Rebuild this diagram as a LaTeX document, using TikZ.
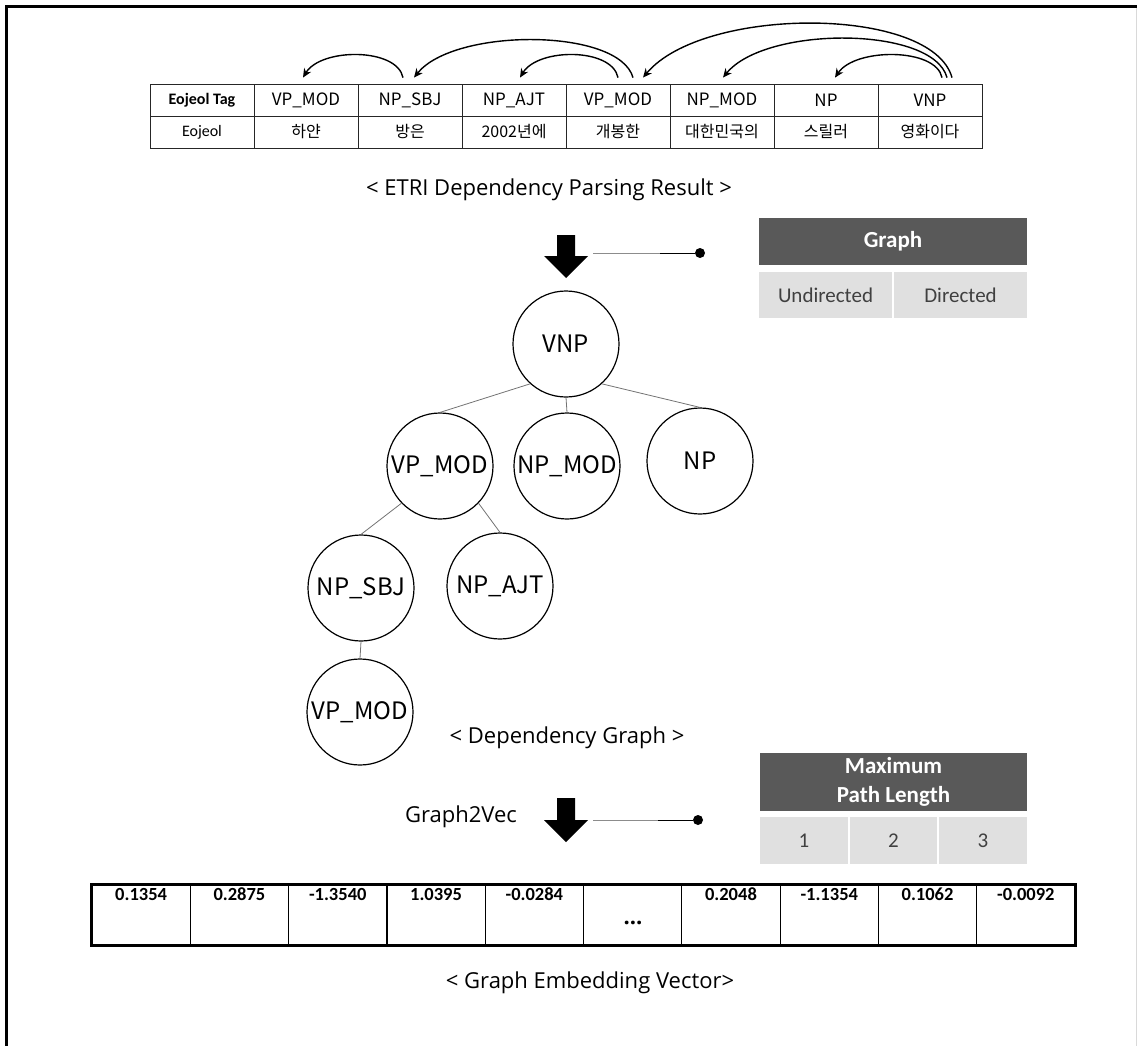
\documentclass[tikz,border=0pt]{standalone}
\usepackage{fontspec}
\setmainfont{Open Sans}
\newfontfamily\calfont{Carlito}
\newfontfamily\krfont{Noto Sans CJK KR}
\usetikzlibrary{arrows.meta,calc}
\definecolor{hdr}{HTML}{595959}
\definecolor{cellg}{HTML}{E0E0E0}
\definecolor{celltxt}{HTML}{404040}
\begin{document}
\begin{tikzpicture}[x=1pt,y=-1pt,
  tagcell/.style={draw=black!85, line width=0.8pt, minimum width=104pt, minimum height=32pt, inner sep=0pt, font=\krfont\fontsize{17}{20}\selectfont},
  wordcell/.style={tagcell, font=\krfont\fontsize{16}{20}\selectfont},
  arc/.style={line width=1.4pt, -{Stealth[length=9pt,width=8pt]}},
  caption/.style={font=\fontsize{22}{26}\selectfont, inner sep=0pt},
  tnode/.style={circle, draw, line width=1.2pt, minimum size=106pt, inner sep=0pt, font=\krfont\fontsize{24}{28}\selectfont},
  tedge/.style={draw=black!55, line width=0.8pt},
  hdrcell/.style={fill=hdr, text=white, inner sep=0pt, font=\calfont\bfseries\fontsize{23}{26}\selectfont, align=center},
  optcell/.style={fill=cellg, text=celltxt, inner sep=0pt, font=\calfont\fontsize{21}{24}\selectfont},
  vcell/.style={draw, line width=1.2pt, minimum width=98.3pt, minimum height=60pt, inner sep=0pt},
  vnum/.style={font=\calfont\bfseries\fontsize{18.5}{20}\selectfont, inner sep=0pt, anchor=base},
  dot/.style={circle, fill, inner sep=0pt, minimum size=10pt},
  blockarrow/.style={fill=black}
]
\useasboundingbox (0,0) rectangle (1137,1046);
% frame
\draw[line width=3pt] (6,1046) -- (6,7) -- (1137,7);
\draw[black!15, line width=1pt] (1136,8) -- (1136,1046);

% top table
\node[tagcell, font=\calfont\bfseries\fontsize{16}{20}\selectfont] (t1) at (202,100) {Eojeol Tag};
\node[tagcell] (t2) at (306,100) {VP\_MOD};
\node[tagcell] (t3) at (410,100) {NP\_SBJ};
\node[tagcell] (t4) at (514,100) {NP\_AJT};
\node[tagcell] (t5) at (618,100) {VP\_MOD};
\node[tagcell] (t6) at (722,100) {NP\_MOD};
\node[tagcell] (t7) at (826,100) {NP};
\node[tagcell] (t8) at (930,100) {VNP};
\node[wordcell, font=\calfont\fontsize{16}{20}\selectfont] (w1) at (202,132) {Eojeol};
\node[wordcell] (w2) at (306,132) {하얀};
\node[wordcell] (w3) at (410,132) {방은};
\node[wordcell] (w4) at (514,132) {2002년에};
\node[wordcell] (w5) at (618,132) {개봉한};
\node[wordcell] (w6) at (722,132) {대한민국의};
\node[wordcell] (w7) at (826,132) {스릴러};
\node[wordcell] (w8) at (930,132) {영화이다};

% dependency arcs
\draw[arc] ($(t3.north)+(-7,-6)$) .. controls +(-6,-30) and +(18,-30) .. ($(t2.north)+(-3,-6)$);
\draw[arc] ($(t5.north)+(0,-6)$) .. controls +(-6,-30) and +(18,-30) .. ($(t4.north)+(6,-6)$);
\draw[arc] ($(t5.north)+(15,-6)$) .. controls +(-14,-50) and +(40,-50) .. ($(t3.north)+(4,-6)$);
\draw[arc] ($(t8.north)+(22,-6)$) .. controls +(-20,-72) and +(60,-72) .. ($(t5.north)+(25,-6)$);
\draw[arc] ($(t8.north)+(17,-6)$) .. controls +(-14,-52) and +(42,-52) .. ($(t6.north)+(1,-6)$);
\draw[arc] ($(t8.north)+(12,-6)$) .. controls +(-6,-30) and +(20,-30) .. ($(t7.north)+(9,-6)$);

\node[caption] (cap1) at (549,190) {< ETRI Dependency Parsing Result >};

% first block arrow and option line
\fill[blockarrow] (557,235) -- (575,235) -- (575,256) -- (588,256) -- (566,278) -- (544,256) -- (557,256) -- cycle;
\coordinate (a1r) at (593,253);
\coordinate (a1m) at (660,253);
\node[dot] (d1) at (700,253) {};
\draw[black!45, line width=1pt] (a1r) -- (a1m);
\draw[line width=1pt] (a1m) -- (d1);

% Graph option table
\node[hdrcell, minimum width=268pt, minimum height=47pt] (g0) at (893,241.5) {Graph};
\node[optcell, minimum width=133pt, minimum height=46pt] (g1) at (825.5,295) {Undirected};
\node[optcell, minimum width=133pt, minimum height=46pt] (g2) at (960.5,295) {Directed};

% dependency tree
\node[tnode] (n0) at (566,344) {VNP};
\node[tnode] (n1) at (440,466) {VP\_MOD};
\node[tnode] (n2) at (567,466) {NP\_MOD};
\node[tnode] (n3) at (700,461) {NP};
\node[tnode] (n4) at (361,588) {NP\_SBJ};
\node[tnode] (n5) at (500,586) {NP\_AJT};
\node[tnode] (n6) at (360,712) {VP\_MOD};
\draw[tedge] (n0.228) -- (n1.north);
\draw[tedge] (n0.south) -- (n2.north);
\draw[tedge] (n0.312) -- (n3.north);
\draw[tedge] (n1.224) -- (n4.north);
\draw[tedge] (n1.316) -- (n5.north);
\draw[tedge] (n4.south) -- (n6.north);

\node[caption] (cap2) at (567,738) {< Dependency Graph >};

% Graph2Vec arrow
\node[caption] (g2v) at (461,817) {Graph2Vec};
\fill[blockarrow] (557,798) -- (575,798) -- (575,820) -- (588,820) -- (566,842) -- (544,820) -- (557,820) -- cycle;
\coordinate (a2r) at (593,820);
\coordinate (a2m) at (658,820);
\node[dot] (d2) at (698,820) {};
\draw[black!45, line width=1pt] (a2r) -- (a2m);
\draw[line width=1pt] (a2m) -- (d2);

% Maximum path length table
\node[hdrcell, minimum width=267pt, minimum height=58pt, font=\calfont\bfseries\fontsize{23}{29}\selectfont] (m0) at (893.5,782) {Maximum\\Path Length};
\node[optcell, minimum width=88pt, minimum height=47pt] (m1) at (804,840.5) {1};
\node[optcell, minimum width=87pt, minimum height=47pt] (m2) at (893.5,840.5) {2};
\node[optcell, minimum width=88pt, minimum height=47pt] (m3) at (983,840.5) {3};

% embedding vector
\foreach \i/\v in {1/0.1354,2/0.2875,3/-1.3540,4/1.0395,5/-0.0284,6/,7/0.2048,8/-1.1354,9/0.1062,10/-0.0092}{
  \node[vcell] (v\i) at ({92+98.3*(\i-0.5)},915) {};
  \node[vnum] (vn\i) at ($(v\i.north)+(0,16)$) {\v};
}
\draw[line width=2pt] (v1.north west) rectangle (v10.south east);
\node[font=\bfseries\fontsize{22}{24}\selectfont, inner sep=0pt] (vdots) at (633,923) {...};

\node[caption] (cap3) at (590,983) {< Graph Embedding Vector>};
\end{tikzpicture}
\end{document}
